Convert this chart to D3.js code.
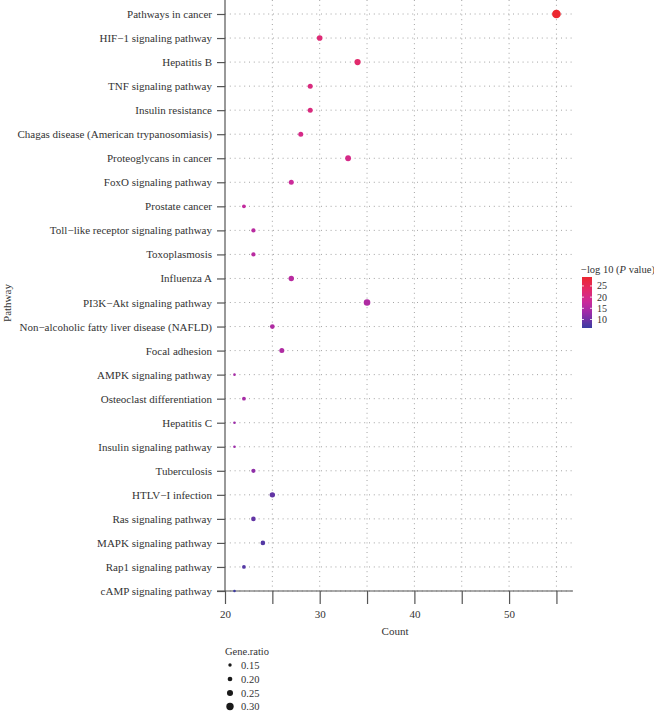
<!DOCTYPE html>
<html><head><meta charset="utf-8">
<script src="https://cdn.jsdelivr.net/npm/d3@7"></script>
<style>body{margin:0;background:#fff}svg{display:block}text{font-family:"Liberation Serif","DejaVu Serif",serif;fill:#333}</style>
</head><body>
<script>
const pathways = ["Pathways in cancer","HIF\u22121 signaling pathway","Hepatitis B","TNF signaling pathway","Insulin resistance","Chagas disease (American trypanosomiasis)","Proteoglycans in cancer","FoxO signaling pathway","Prostate cancer","Toll\u2212like receptor signaling pathway","Toxoplasmosis","Influenza A","PI3K\u2212Akt signaling pathway","Non\u2212alcoholic fatty liver disease (NAFLD)","Focal adhesion","AMPK signaling pathway","Osteoclast differentiation","Hepatitis C","Insulin signaling pathway","Tuberculosis","HTLV\u2212I infection","Ras signaling pathway","MAPK signaling pathway","Rap1 signaling pathway","cAMP signaling pathway"];
const counts = [55,30,34,29,29,28,33,27,22,23,23,27,35,25,26,21,22,21,21,23,25,23,24,22,21];
const negLogP = [29,22,23,21,21,20,20,18,17,16,16,16,15,15,15,14,14,13,13,12,9,9,8,8,6.5];
const geneRatio = [0.35,0.233,0.255,0.21,0.21,0.21,0.24,0.21,0.165,0.18,0.18,0.225,0.27,0.2,0.21,0.12,0.165,0.12,0.12,0.18,0.225,0.195,0.195,0.165,0.12];
const xTicks = [20,25,30,35,40,45,50,55];
const xTickLabels = [20,30,40,50];
const colorTicks = [25,20,15,10];
const sizeBreaks = [0.15,0.20,0.25,0.30];

const W=654,H=712;
const svg=d3.select("body").append("svg").attr("width",W).attr("height",H);
const x=d3.scaleLinear().domain([20,56.75]).range([225,573]);
const y=d3.scalePoint().domain(pathways).range([14,591]);
const r=d3.scaleLinear().domain([0.12,0.36]).range([1.3,4.5]);
const cmin=6.2,cmax=29;
const col=d3.scaleLinear().domain([cmin,13,18,23,cmax])
  .range(["#3a3ca2","#9c2ca8","#cc2a9a","#e22a6c","#ec2830"]).interpolate(d3.interpolateRgb);

// grid
const g=svg.append("g");
g.selectAll(".hg").data(pathways).join("line")
 .attr("x1",225).attr("x2",573).attr("y1",d=>y(d)).attr("y2",d=>y(d))
 .attr("stroke","#9a9a9a").attr("stroke-width",0.9).attr("stroke-dasharray","1,3.8");
g.selectAll(".vg").data(xTicks.slice(1)).join("line")
 .attr("x1",d=>x(d)).attr("x2",d=>x(d)).attr("y1",0).attr("y2",591)
 .attr("stroke","#9a9a9a").attr("stroke-width",0.9).attr("stroke-dasharray","1,3.8");

// axes
const yAxis=d3.axisLeft(y).tickSize(8).tickPadding(5);
const ya=svg.append("g").attr("transform","translate(225,0)").call(yAxis);
ya.select(".domain").remove();
ya.append("line").attr("x1",0).attr("x2",0).attr("y1",0).attr("y2",591).attr("stroke","#555").attr("stroke-width",1.2);
ya.selectAll(".tick line").attr("stroke","#555").attr("stroke-width",1.2);
ya.selectAll(".tick text").attr("font-size",11).attr("font-family","Liberation Serif").attr("fill","#333");

const xAxis=d3.axisBottom(x).tickValues(xTicks).tickSize(13).tickFormat(d=>xTickLabels.includes(d)?d:"").tickPadding(6);
const xa=svg.append("g").attr("transform","translate(0,591)").call(xAxis);
xa.select(".domain").remove();
xa.append("line").attr("x1",217).attr("x2",573).attr("y1",0).attr("y2",0).attr("stroke","#555").attr("stroke-width",1.2);
xa.selectAll(".tick line").attr("stroke","#555").attr("stroke-width",1.2);
xa.selectAll(".tick text").attr("font-size",11).attr("font-family","Liberation Serif").attr("fill","#333");

// points
const data=pathways.map((p,i)=>({p,c:counts[i],v:negLogP[i],g:geneRatio[i]}));
svg.append("g").selectAll("circle").data(data).join("circle")
 .attr("cx",d=>x(d.c)).attr("cy",d=>y(d.p)).attr("r",d=>r(d.g)).attr("fill",d=>col(d.v));

// titles
svg.append("text").attr("x",395).attr("y",635).attr("text-anchor","middle").attr("font-size",11).text("Count");
svg.append("text").attr("transform","translate(11,303) rotate(-90)").attr("text-anchor","middle").attr("font-size",11).text("Pathway");

// color legend
const defs=svg.append("defs");
const lg=defs.append("linearGradient").attr("id","cg").attr("x1",0).attr("x2",0).attr("y1",1).attr("y2",0);
d3.range(0,1.0001,0.05).forEach(t=>lg.append("stop").attr("offset",t).attr("stop-color",col(cmin+t*(cmax-cmin))));
const cy=d3.scaleLinear().domain([cmin,cmax]).range([328,277]);
svg.append("rect").attr("x",582).attr("y",277).attr("width",10).attr("height",51).attr("fill","url(#cg)");
colorTicks.forEach(t=>{
  svg.append("line").attr("x1",582).attr("x2",584).attr("y1",cy(t)).attr("y2",cy(t)).attr("stroke","#fff").attr("stroke-width",0.8);
  svg.append("line").attr("x1",590).attr("x2",592).attr("y1",cy(t)).attr("y2",cy(t)).attr("stroke","#fff").attr("stroke-width",0.8);
  svg.append("text").attr("x",597).attr("y",cy(t)+3.5).attr("font-size",10).text(t);
});
const ct=svg.append("text").attr("x",581).attr("y",273).attr("font-size",10.5);
ct.append("tspan").text("\u2212log 10 (");
ct.append("tspan").attr("font-style","italic").text("P");
ct.append("tspan").text(" value)");

// size legend
svg.append("text").attr("x",225).attr("y",655).attr("font-size",10.5).text("Gene.ratio");
const sy=[665,679,693,706.5];
sizeBreaks.forEach((b,i)=>{
  svg.append("circle").attr("cx",230).attr("cy",sy[i]).attr("r",r(b)).attr("fill","#1a1a1a");
  svg.append("text").attr("x",241).attr("y",sy[i]+3.5).attr("font-size",10.5).text(b.toFixed(2));
});
</script>
</body></html>
